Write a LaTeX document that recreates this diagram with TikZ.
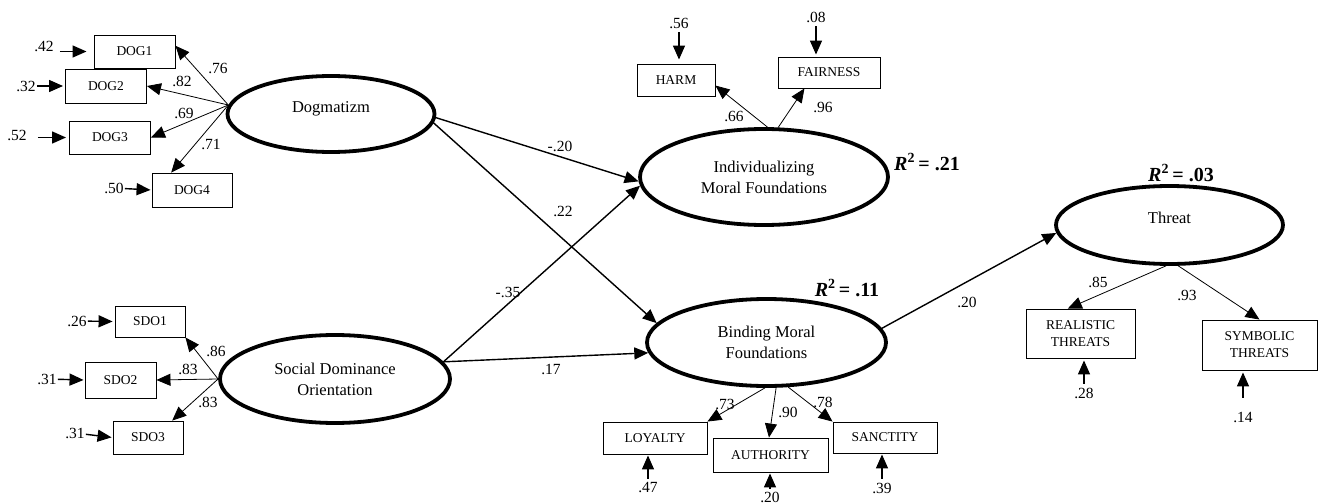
\documentclass[tikz,border=0pt]{standalone}
\usepackage{fontspec}
\setmainfont{Liberation Serif}
\usetikzlibrary{shapes.geometric,arrows.meta,calc}
\begin{document}
\begin{tikzpicture}[x=1pt,y=-1pt,
  lat/.style={ellipse,draw,line width=3.8pt,inner sep=0pt,font=\fontsize{16.5}{21}\selectfont,align=center},
  obs/.style={rectangle,draw,line width=0.9pt,inner sep=0pt,font=\fontsize{13.5}{17}\selectfont,align=center},
  num/.style={inner sep=1pt,font=\fontsize{15.5}{18}\selectfont},
  rsq/.style={inner sep=1pt,font=\fontsize{20}{24}\selectfont\bfseries},
  tipA/.style={-{Triangle[length=14pt,width=12pt]}},
  load/.style={tipA,line width=0.8pt},
  struct/.style={tipA,line width=1.4pt},
  erra/.style={tipA,line width=1.4pt}]
\path[use as bounding box] (0,0) rectangle (1318,503);

% latent variables
\node[lat,minimum width=207pt,minimum height=76pt] (dog) at (331,114) {\raisebox{14pt}{Dogmatizm}};
\node[lat,minimum width=230pt,minimum height=88pt] (sdo) at (335,379) {Social Dominance\\Orientation};
\node[lat,minimum width=248pt,minimum height=96pt] (ind) at (764,177) {Individualizing\\Moral Foundations};
\node[lat,minimum width=239pt,minimum height=87pt] (bind) at (766.5,342.5) {Binding Moral\\Foundations};
\node[lat,minimum width=227pt,minimum height=78pt] (thr) at (1169.5,225) {\raisebox{14pt}{Threat}};

% observed variables
\node[obs,minimum width=81pt,minimum height=33pt] (dog1) at (134.5,51.5) {DOG1};
\node[obs,minimum width=81pt,minimum height=34pt] (dog2) at (106,86) {DOG2};
\node[obs,minimum width=81pt,minimum height=33pt] (dog3) at (110,137.5) {DOG3};
\node[obs,minimum width=80pt,minimum height=34pt] (dog4) at (192,190) {DOG4};
\node[obs,minimum width=70pt,minimum height=31pt] (sdo1) at (150,321.5) {SDO1};
\node[obs,minimum width=71pt,minimum height=36pt] (sdo2) at (120.5,380) {SDO2};
\node[obs,minimum width=70pt,minimum height=33pt] (sdo3) at (148,437.5) {SDO3};
\node[obs,minimum width=78pt,minimum height=32pt] (harm) at (676,80) {HARM};
\node[obs,minimum width=102pt,minimum height=31pt] (fair) at (829,72.5) {FAIRNESS};
\node[obs,minimum width=104pt,minimum height=32pt] (loy) at (655,438) {LOYALTY};
\node[obs,minimum width=115pt,minimum height=34pt] (auth) at (770.5,455) {AUTHORITY};
\node[obs,minimum width=104pt,minimum height=31pt] (sanc) at (885,437.5) {SANCTITY};
\node[obs,minimum width=109pt,minimum height=49pt] (real) at (1080.5,333.5) {REALISTIC\\THREATS};
\node[obs,minimum width=115pt,minimum height=50pt] (symb) at (1259.5,345) {SYMBOLIC\\THREATS};

% error terms
\node[num] (e1) at (44,46) {.42};
\node[num] (e2) at (26,86) {.32};
\node[num] (e3) at (17,135) {.52};
\node[num] (e4) at (114,188) {.50};
\node[num] (es1) at (77,321) {.26};
\node[num] (es2) at (47,379) {.31};
\node[num] (es3) at (75,433) {.31};
\node[num] (eh) at (679,23) {.56};
\node[num] (ef) at (816,17) {.08};
\node[num] (el) at (648,488) {.47};
\node[num] (ea) at (770,497) {.20};
\node[num] (esc) at (882,488) {.39};
\node[num] (er) at (1084,393) {.28};
\node[num] (esy) at (1243,417) {.14};

\draw[erra,shorten <=5pt,shorten >=7pt] (e1.east |- dog1.west) -- (dog1.west);
\draw[erra,shorten >=2pt] (e2) -- (dog2.west);
\draw[erra,shorten <=10pt,shorten >=3pt] (e3.east |- dog3.west) -- (dog3.west);
\draw[erra,shorten >=1pt] (e4) -- (dog4.west);
\draw[erra,shorten >=2pt] (es1) -- (sdo1.west);
\draw[erra,shorten >=1pt] (es2) -- (sdo2.west);
\draw[erra,shorten >=1pt] (es3) -- (sdo3.west);
\draw[erra,shorten <=3pt,shorten >=4pt] (eh) -- (harm.north -| eh);
\draw[erra,shorten <=3pt,shorten >=2pt] (ef) -- (fair.north -| ef);
\draw[erra,shorten <=3pt,shorten >=1pt] (el) -- (loy.south -| el);
\draw[erra,shorten <=2pt,shorten >=1pt] (ea) -- (auth.south -| ea);
\draw[erra,shorten <=3pt,shorten >=1pt] (esc) -- (sanc.south -| esc);
\draw[erra,shorten <=3pt,shorten >=2pt] (er) -- (real.south -| er);
\draw[erra,shorten <=13pt,shorten >=2pt] (esy) -- (symb.south -| esy);

% loadings
\draw[load] (dog.175) -- (dog1.8);
\draw[load] (dog.175) -- (dog2.east);
\draw[load] (dog.175) -- (dog3.east);
\draw[load] (dog.175) -- (dog4.140);
\draw[load] (sdo.west) -- (sdo1.south east);
\draw[load] (sdo.west) -- (sdo2.east);
\draw[load] (sdo.west) -- (sdo3.35);
\draw[load] (ind.86) -- (harm.-8);
\draw[load] (ind.74) -- (fair.213);
\draw[load] (bind.-92) -- (loy.north east);
\draw[load] (bind.-78) -- (auth.95);
\draw[load] (bind.-64) -- (sanc.north west);
\draw[load] (thr.-95) -- (real.117);
\draw[load] (thr.-78) -- (symb.north);

% loading labels
\node[num] (l1) at (218,68) {.76};
\node[num] (l2) at (182,81) {.82};
\node[num] (l3) at (184,113) {.69};
\node[num] (l4) at (211,144) {.71};
\node[num] (l5) at (216,351) {.86};
\node[num] (l6) at (188,369) {.83};
\node[num] (l7) at (208,402) {.83};
\node[num] (l8) at (734,116) {.66};
\node[num] (l9) at (823,107) {.96};
\node[num] (l10) at (725,404) {.73};
\node[num] (l11) at (788,412) {.90};
\node[num] (l12) at (823,402) {.78};
\node[num] (l13) at (1098,282) {.85};
\node[num] (l14) at (1187,295) {.93};

% structural paths
\draw[struct] (dog.-2) -- (ind.182);
\draw[struct] (dog.-5) -- (bind.170);
\draw[struct] (sdo.9) -- (ind.184);
\draw[struct] (sdo.9) -- (bind.185);
\draw[struct] (bind.7) -- (thr.184);

\node[num] (p1) at (560,146) {-.20};
\node[num] (p2) at (563,211) {.22};
\node[num] (p3) at (508,292) {-.35};
\node[num] (p4) at (551,369) {.17};
\node[num] (p5) at (967,302) {.20};

% R squared
\node[rsq] (r1) at (927,162) {\textit{R}\textsuperscript{2}\,= .21};
\node[rsq] (r2) at (847,288) {\textit{R}\textsuperscript{2}\,= .11};
\node[rsq] (r3) at (1181,173) {\textit{R}\textsuperscript{2}\,= .03};
\end{tikzpicture}
\end{document}
